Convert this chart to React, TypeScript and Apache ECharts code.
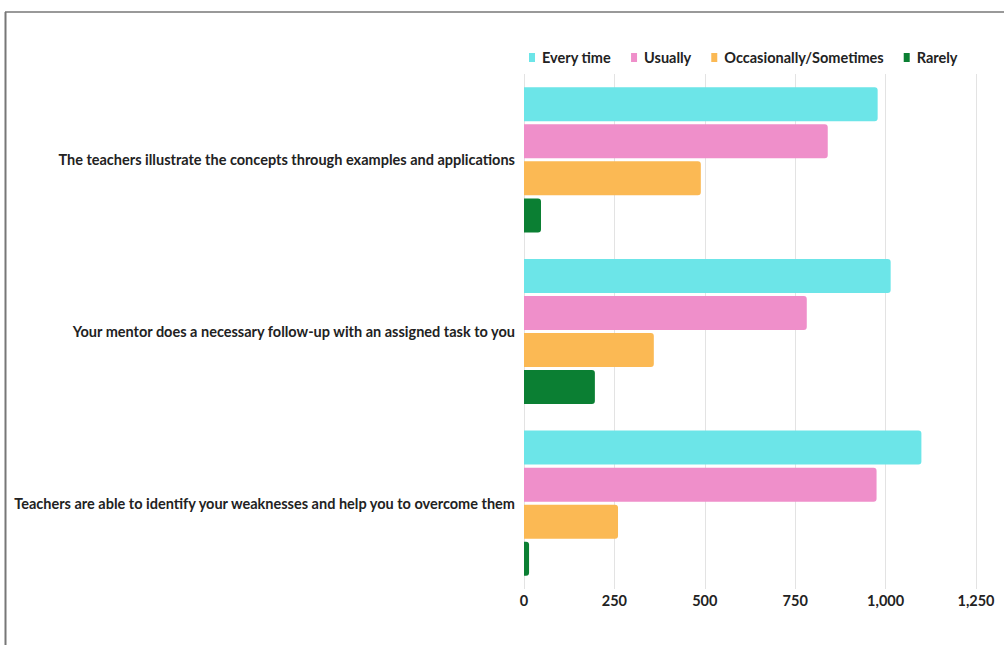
import React, { useEffect, useRef } from "react";
import * as echarts from "echarts";

const categories = [
  "The teachers illustrate the concepts through examples and applications",
  "Your mentor does a necessary follow-up with an assigned task to you",
  "Teachers are able to identify your weaknesses and help you to overcome them",
];
const seriesNames = ["Every time", "Usually", "Occasionally/Sometimes", "Rarely"];
const everyTime = [978, 1014, 1099];
const usually = [840, 782, 975];
const occasionally = [489, 359, 260];
const rarely = [47, 196, 14];
const colors = ["#6ce5e8", "#ef8fca", "#fbb954", "#0b7f33"];
const xTicks = [0, 250, 500, 750, 1000, 1250];

const FONT = "Lato, 'DejaVu Sans Condensed', sans-serif";
const FS = 14.5;

export default function App() {
  const ref = useRef<HTMLDivElement>(null);
  useEffect(() => {
    if (!ref.current) return;
    const chart = echarts.init(ref.current, null, { renderer: "svg" });
    const values = [everyTime, usually, occasionally, rarely];
    chart.setOption({
      animation: false,
      backgroundColor: "#ffffff",
      textStyle: { fontFamily: FONT },
      legend: {
        data: seriesNames,
        left: 524,
        top: 45,
        icon: "rect",
        itemWidth: 6,
        itemHeight: 9,
        itemGap: 20,
        textStyle: { fontFamily: FONT, fontSize: FS, fontWeight: "bold", color: "#222", padding: [0, 0, 0, 2] },
      },
      grid: { left: 524, right: 28, top: 74, bottom: 56, containLabel: false, outerBoundsMode: "none" },
      xAxis: {
        type: "value",
        min: xTicks[0],
        max: xTicks[xTicks.length - 1],
        interval: 250,
        axisLine: { show: false },
        axisTick: { show: false },
        splitLine: { show: true, lineStyle: { color: "#e3e3e3", width: 1 } },
        axisLabel: {
          fontFamily: FONT,
          fontSize: FS,
          fontWeight: "bold",
          color: "#222",
          margin: 4,
          formatter: (v: number) => v.toLocaleString("en-US"),
        },
      },
      yAxis: {
        type: "category",
        data: categories,
        inverse: true,
        axisLine: { show: false },
        axisTick: { show: false },
        axisLabel: { fontFamily: FONT, fontSize: FS, fontWeight: "bold", color: "#222", margin: 9 },
      },
      series: seriesNames.map((name, i) => ({
        name,
        type: "bar",
        data: values[i],
        barWidth: 34,
        barGap: "9%",
        itemStyle: { color: colors[i], borderRadius: [0, 3, 3, 0] },
      })),
      graphic: [
        { type: "line", shape: { x1: 5.5, y1: 12, x2: 5.5, y2: 645 }, style: { stroke: "#777", lineWidth: 2 } },
        { type: "line", shape: { x1: 5, y1: 12, x2: 1004, y2: 12 }, style: { stroke: "#777", lineWidth: 1.5 } },
      ],
    });
    return () => chart.dispose();
  }, []);
  return (
    <div
      ref={ref}
      style={{ position: "fixed", left: 0, top: 0, width: 1004, height: 645 }}
    />
  );
}
